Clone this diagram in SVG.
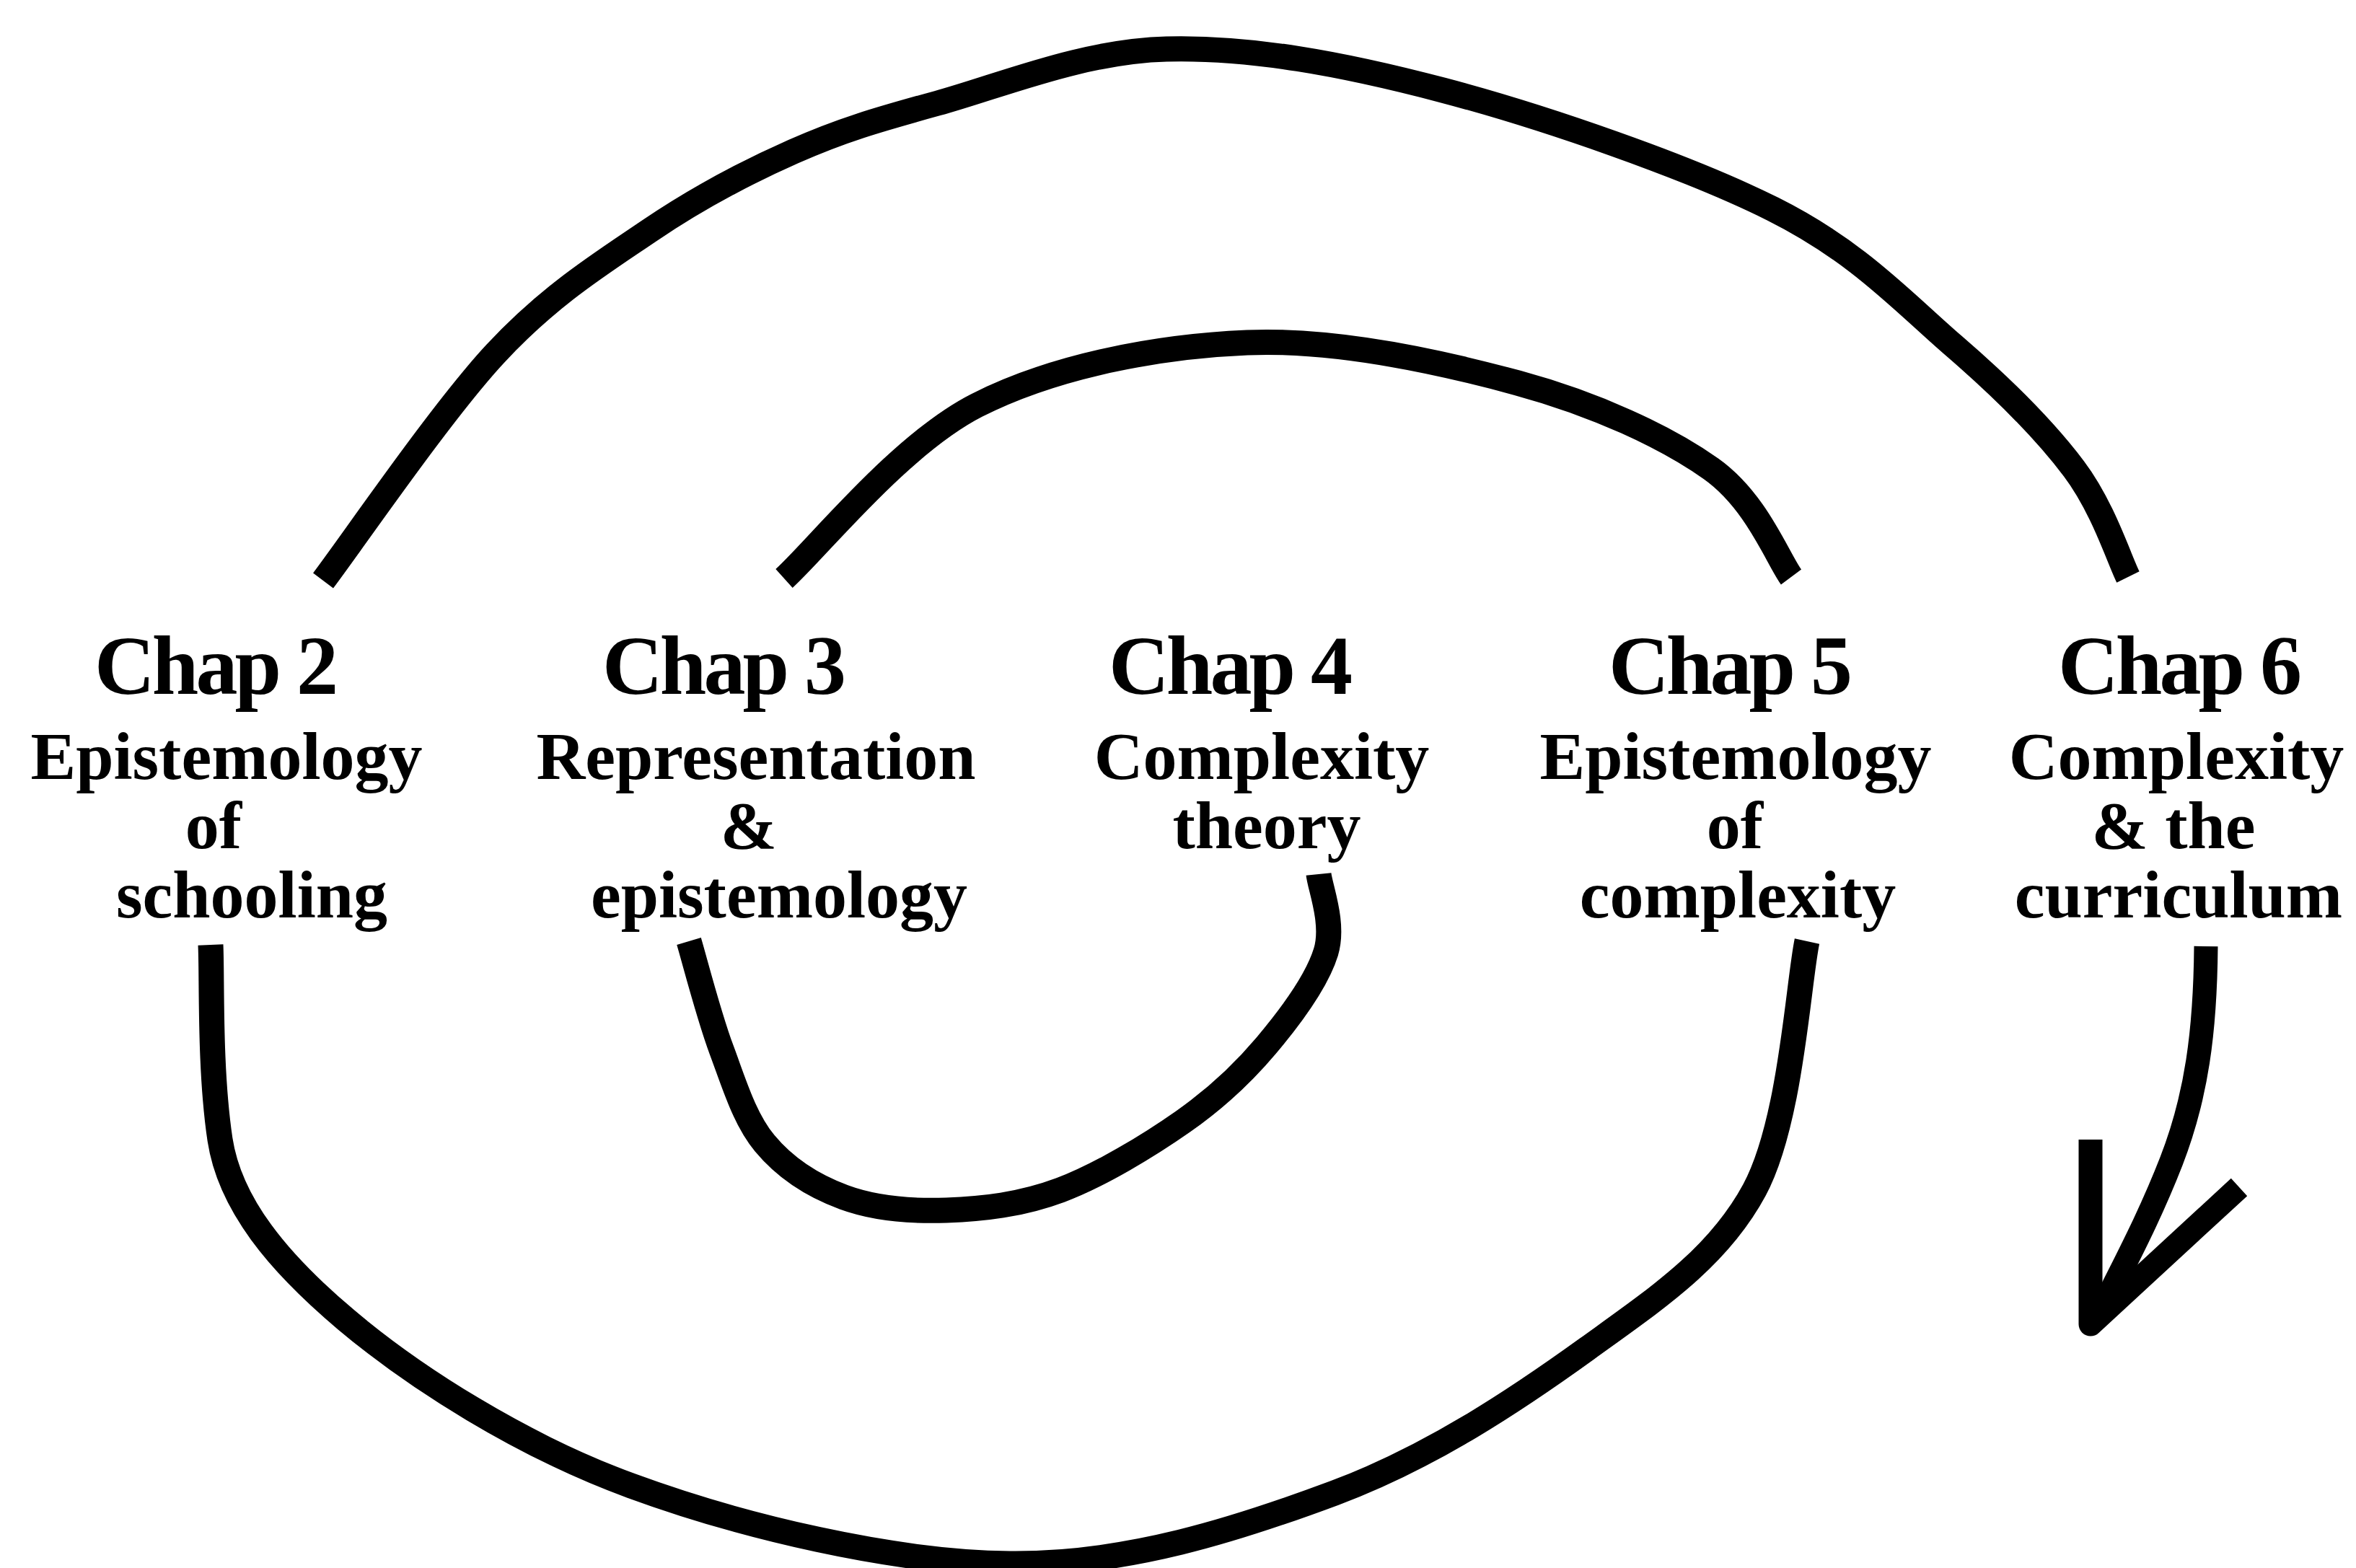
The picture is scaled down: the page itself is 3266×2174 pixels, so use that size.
<svg xmlns="http://www.w3.org/2000/svg" width="3266" height="2174" viewBox="0 0 3266 2174">
<style>
.conn{fill:none;stroke:#000;stroke-width:35;stroke-linecap:butt;stroke-linejoin:round}
.arrow{fill:none;stroke:#000;stroke-width:33;stroke-linecap:butt;stroke-linejoin:round}
.title{font-family:"Liberation Serif","Times New Roman",serif;font-weight:bold;font-size:116px;letter-spacing:-4px;text-anchor:middle;fill:#000}
.sub{font-family:"Liberation Serif","Times New Roman",serif;font-weight:bold;font-size:94px;text-anchor:middle;fill:#000}
</style>
<rect x="0" y="0" width="3266" height="2174" fill="#fff"/>
<g id="connectors">
<path id="outer-top" class="conn" d="M448,805 C487.8,752.5 611.7,570.8 687,490 C762.3,409.2 831.2,366.7 900,320 C968.8,273.3 1033.3,239.5 1100,210 C1166.7,180.5 1213.8,166.7 1300,143 C1386.2,119.3 1500.3,71 1617,68 C1733.7,65 1859.8,88 2000,125 C2140.2,162 2340,231 2458,290 C2576,349 2638.5,419 2708,479 C2777.5,539 2834.7,596.5 2875,650 C2915.3,703.5 2937.5,775 2950,800"/>
<path id="inner-top" class="conn" d="M1087,802 C1131.5,762 1247,616.5 1354,562 C1461,507.5 1604,480.2 1729,475 C1854,469.8 1996.8,501.8 2104,531 C2211.2,560.2 2308.8,605.2 2372,650 C2435.2,694.8 2464.5,775 2483,800"/>
<path id="inner-bottom" class="conn" d="M955,1305 C962.5,1330 982.5,1408.3 1000,1455 C1017.5,1501.7 1031.7,1550.8 1060,1585 C1088.3,1619.2 1128,1644.5 1170,1660 C1212,1675.5 1262,1679.7 1312,1678 C1362,1676.3 1415.3,1670.5 1470,1650 C1524.7,1629.5 1592.5,1588.3 1640,1555 C1687.5,1521.7 1722,1489.2 1755,1450 C1788,1410.8 1825.8,1359.7 1838,1320 C1850.2,1280.3 1829.7,1230 1828,1212"/>
<path id="outer-bottom" class="conn" d="M292,1310 C294.2,1355 290,1480 305,1580 C318.5,1669 385,1750 480,1830 C575,1910 721.7,2003.7 875,2060 C1028.3,2116.3 1237.5,2166.3 1400,2168 C1562.5,2169.7 1716.7,2119.7 1850,2070 C1983.3,2020.3 2103,1940 2200,1870 C2297,1800 2381.2,1744.2 2432,1650 C2482.8,1555.8 2492.8,1362.5 2505,1305"/>
<path id="arrow-shaft" class="arrow" d="M3058,1312 C3057,1430 3045,1520 3010,1610 C2975,1700 2935,1770 2908,1828"/>
<path id="arrow-head" class="arrow" d="M2898,1580 L2898,1836 L3104,1646"/>
</g>
<g id="chap2">
<text class="title" x="298" y="962">Chap 2</text>
<text class="sub" x="314" y="1080">Epistemology</text>
<text class="sub" x="296" y="1176">of</text>
<text class="sub" x="349" y="1272">schooling</text>
</g>
<g id="chap3">
<text class="title" x="1002" y="962">Chap 3</text>
<text class="sub" x="1048" y="1080">Representation</text>
<text class="sub" x="1038" y="1176">&amp;</text>
<text class="sub" x="1080" y="1272">epistemology</text>
</g>
<g id="chap4">
<text class="title" x="1704" y="962">Chap 4</text>
<text class="sub" x="1749" y="1080">Complexity</text>
<text class="sub" x="1756" y="1176">theory</text>
</g>
<g id="chap5">
<text class="title" x="2397" y="962">Chap 5</text>
<text class="sub" x="2406" y="1080">Epistemology</text>
<text class="sub" x="2405" y="1176">of</text>
<text class="sub" x="2409" y="1272">complexity</text>
</g>
<g id="chap6">
<text class="title" x="3020" y="962">Chap 6</text>
<text class="sub" x="3017" y="1080">Complexity</text>
<text class="sub" x="3013" y="1176">&amp; the</text>
<text class="sub" x="3020" y="1272">curriculum</text>
</g>
</svg>
